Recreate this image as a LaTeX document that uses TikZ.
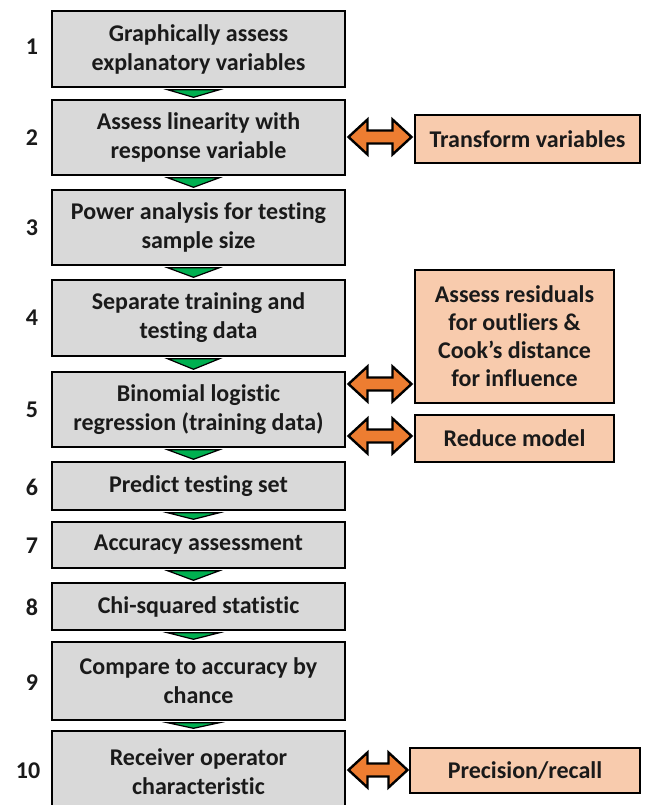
\documentclass[tikz,border=0pt]{standalone}
\usepackage{fontspec}
\setmainfont{Carlito}[Ligatures=NoCommon]
\usetikzlibrary{calc}
\definecolor{boxgray}{HTML}{D9D9D9}
\definecolor{peach}{HTML}{F8CBAD}
\definecolor{arrorange}{HTML}{ED7D31}
\definecolor{trigreen}{HTML}{00B050}
\definecolor{txt}{HTML}{1A1A1A}
\begin{document}
\begin{tikzpicture}[x=1pt,y=1pt,
  mainbox/.style={draw=black, line width=2.6pt, fill=boxgray, minimum width=293pt, align=center,
    font=\fontsize{24}{29}\selectfont\bfseries, text=txt, inner sep=0pt},
  sidebox/.style={draw=black, line width=2.6pt, fill=peach, align=center,
    font=\fontsize{24}{28}\selectfont\bfseries, text=txt, inner sep=0pt},
  numlabel/.style={font=\fontsize{24}{28}\selectfont\bfseries, text=txt},
  tri/.style={fill=trigreen, draw=black, line width=1.2pt, line join=miter},
  pics/dblarrow/.style={code={
    \def\hl{#1}
    \draw[draw=black, line width=2.4pt, fill=arrorange, line join=miter]
      (-\hl,0) -- (-\hl+19,17.5) -- (-\hl+19,6.5) -- (\hl-19,6.5) -- (\hl-19,17.5)
      -- (\hl,0) -- (\hl-19,-17.5) -- (\hl-19,-6.5) -- (-\hl+19,-6.5) -- (-\hl+19,-17.5) -- cycle;
  }}
]
\clip (0,0) rectangle (657,-805);
\fill[white] (0,0) rectangle (657,-805);

% main boxes
\node[mainbox, minimum height=76pt] (b1) at (198.5,-49) {Graphically assess\\explanatory variables};
\node[mainbox, minimum height=75pt] (b2) at (198.5,-137.5) {Assess linearity with\\response variable};
\node[mainbox, minimum height=75pt] (b3) at (198.5,-227.5) {Power analysis for testing\\sample size};
\node[mainbox, minimum height=76pt] (b4) at (198.5,-318) {Separate training and\\testing data};
\node[mainbox, minimum height=75pt] (b5) at (198.5,-409.5) {Binomial logistic\\regression (training data)};
\node[mainbox, minimum height=48pt] (b6) at (198.5,-486) {Predict testing set};
\node[mainbox, minimum height=46pt] (b7) at (198.5,-545) {Accuracy assessment};
\node[mainbox, minimum height=47pt] (b8) at (198.5,-606.5) {Chi-squared statistic};
\node[mainbox, minimum height=78pt] (b9) at (198.5,-681) {Compare to accuracy by\\chance};
\node[mainbox, minimum height=81pt] (b10) at (198.5,-771.5) {Receiver operator\\characteristic};

% green triangles
\foreach \a/\b in {b1/b2,b2/b3,b3/b4,b4/b5,b5/b6,b6/b7,b7/b8,b8/b9,b9/b10}{
  \draw[tri] ($(\a.south)+(-31,-1.4)$) -- ($(\a.south)+(21,-1.4)$) -- ($(\b.north)+(-5,1.4)$) -- cycle;
}

% numbers
\node[numlabel] (n1) at (32,-47) {1};
\node[numlabel] (n2) at (32,-138) {2};
\node[numlabel] (n3) at (32,-228) {3};
\node[numlabel] (n4) at (32,-318) {4};
\node[numlabel] (n5) at (32,-410) {5};
\node[numlabel] (n6) at (32,-487) {6};
\node[numlabel] (n7) at (32,-546) {7};
\node[numlabel] (n8) at (32,-607) {8};
\node[numlabel] (n9) at (32,-683) {9};
\node[numlabel] (n10) at (28,-771) {10};

% side boxes
\node[sidebox, minimum width=225pt, minimum height=48pt] (tv) at (527.5,-139) {Transform variables};
\node[sidebox, minimum width=199pt, minimum height=133pt] (res) at (514.5,-336.5) {Assess residuals\\for outliers \&\\Cook’s distance\\for influence};
\node[sidebox, minimum width=199pt, minimum height=47pt] (rm) at (514.5,-438.5) {Reduce model};
\node[sidebox, minimum width=230pt, minimum height=45pt] (pr) at (525,-770.5) {Precision/recall};

% double arrows
\pic at (380,-137) {dblarrow=31.5};
\pic at (380,-384) {dblarrow=31.5};
\pic at (380,-436) {dblarrow=31.5};
\pic at (378,-770) {dblarrow=29.5};
\end{tikzpicture}
\end{document}
